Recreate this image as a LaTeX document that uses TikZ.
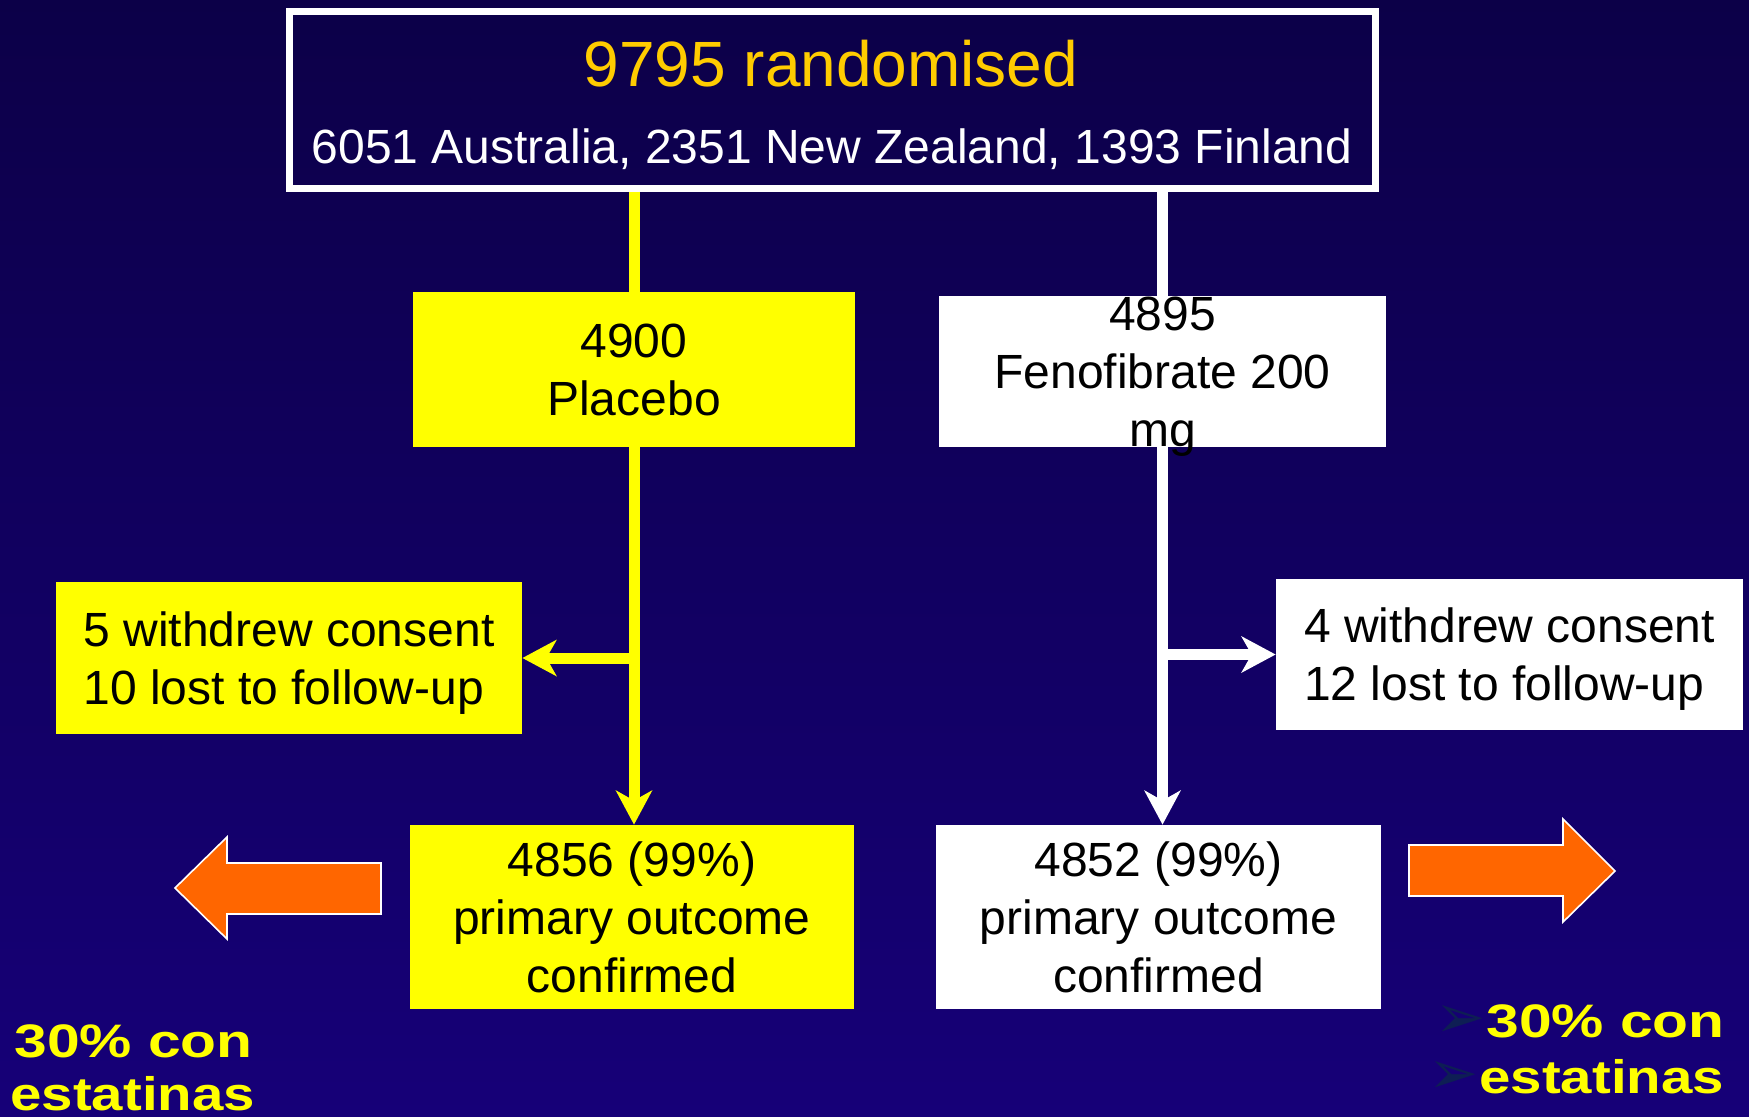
\documentclass[tikz,border=0pt]{standalone}
\usepackage{fontspec}
\setmainfont{Liberation Sans}
\newfontfamily\dingfont{DejaVu Sans}
\usetikzlibrary{arrows.meta}
\definecolor{bgtop}{RGB}{12,0,72}
\definecolor{bgbot}{RGB}{22,0,120}
\definecolor{gold}{RGB}{255,204,0}
\definecolor{boxyellow}{RGB}{255,255,0}
\definecolor{arroworange}{RGB}{255,102,0}
\definecolor{bulletnavy}{RGB}{14,30,84}
\begin{document}
\begin{tikzpicture}[x=0.5pt,y=-0.5pt,
	every node/.style={font=\fontsize{24}{29}\selectfont,inner sep=0pt},
	ybox/.style={rectangle,fill=boxyellow,align=center},
	wbox/.style={rectangle,fill=white,align=center},
	yline/.style={draw=boxyellow,line width=5.5pt},
	wline/.style={draw=white,line width=5.5pt},
	tip/.style={-{Stealth[length=17pt,width=18pt,inset=5pt]}},
	fatarrow/.style={fill=arroworange,draw=white,line width=0.8pt},
	stat/.style={font=\fontsize{23.5}{28}\selectfont\bfseries,text=boxyellow,anchor=base west},
	bullet/.style={anchor=base east,text=bulletnavy,font=\dingfont\fontsize{30}{34}\selectfont}]
\useasboundingbox (0,0) rectangle (1749,1116);
\shade[top color=bgtop,bottom color=bgbot] (0,0) rectangle (1749,1116);
% top box
\node[draw=white,line width=3.5pt,minimum width=543pt,minimum height=88.5pt] (top) at (832,99.5) {};
\node[anchor=base,text=gold,font=\fontsize{32}{38}\selectfont] (title) at (831,86) {9795 randomised};
\node[anchor=base,text=white] (sites) at (832,163) {6051 Australia, 2351 New Zealand, 1393 Finland};
% arms
\node[ybox,minimum width=221pt,minimum height=77.5pt] (placebo) at (634,369.5) {4900\\Placebo};
\node[wbox,text depth=0pt,minimum width=223.5pt,minimum height=75.5pt] (feno) at (1162.5,371.5) {4895\\Fenofibrate 200\\mg};
\node[ybox,align=left,text depth=0pt,minimum width=233pt,minimum height=76pt] (lossL) at (289,658) {5 withdrew consent\\10 lost to follow-up};
\node[wbox,align=left,text depth=0pt,minimum width=233.5pt,minimum height=75.5pt] (lossR) at (1509.5,654.5) {4 withdrew consent\\12 lost to follow-up};
\node[ybox,minimum width=222pt,minimum height=92pt] (doneL) at (632,917) {4856 (99\%)\\primary outcome\\confirmed};
\node[wbox,minimum width=222.5pt,minimum height=92pt] (doneR) at (1158.5,917) {4852 (99\%)\\primary outcome\\confirmed};
% connectors
\draw[yline] (top.south -| placebo.north) -- (placebo.north);
\draw[wline] (top.south -| feno.north) -- (feno.north);
\draw[yline,tip] (placebo.south) -- (placebo.south |- doneL.north);
\draw[yline,tip] (placebo.south |- lossL.east) -- (lossL.east);
\draw[wline,tip] (feno.south) -- (feno.south |- doneR.north);
\draw[wline,tip] (feno.south |- lossR.west) -- (lossR.west);
% orange arrows
\draw[fatarrow] (175,888) -- (227,837) -- (227,863) -- (381,863) -- (381,914) -- (227,914) -- (227,939) -- cycle;
\draw[fatarrow] (1615,871) -- (1563,819) -- (1563,845) -- (1409,845) -- (1409,896) -- (1563,896) -- (1563,922) -- cycle;
% statins
\node[stat] (statL1) at (14,1057) {\scalebox{1.25}[1]{30\% con}};
\node[stat] (statL2) at (10,1110) {\scalebox{1.2}[1]{estatinas}};
\node[stat] (statR1) at (1486,1037) {\scalebox{1.25}[1]{30\% con}};
\node[stat] (statR2) at (1479,1093) {\scalebox{1.2}[1]{estatinas}};
\node[bullet] (bulR1) at (1486,1037) {➢};
\node[bullet] (bulR2) at (1479,1093) {➢};
\end{tikzpicture}
\end{document}
